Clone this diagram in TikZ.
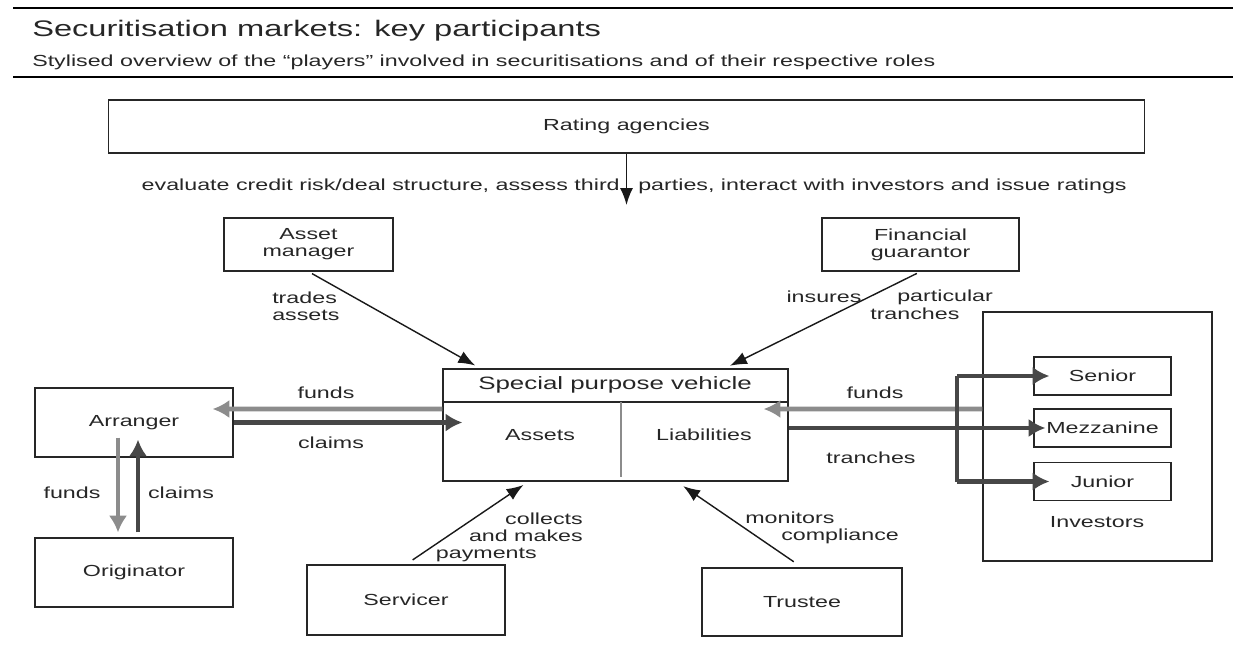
\documentclass[tikz,border=0pt]{standalone}
\usepackage{fontspec}
\setmainfont{Liberation Sans}[FakeStretch=1.45]
\usetikzlibrary{arrows.meta}

\newcommand\lblfont{\fontsize{11.4}{12.2}\selectfont}
\newcommand\spvfont{\fontsize{12.7}{14}\selectfont}
\newcommand\headfont{\fontsize{16}{19}\selectfont}

\begin{document}
\begin{tikzpicture}[
    x=0.025cm, y=-0.025cm,
    box/.style={rectangle, draw=black!85, line width=0.85pt, align=center, inner sep=1pt, font=\lblfont, text=black!85},
    lbl/.style={inner sep=0pt, font=\lblfont, text=black!85},
    arrow/.style={-{Latex[length=4.2mm,width=3.2mm]}, line width=1pt, draw=black!90},
    fundsflow/.style={-{Latex[length=4.2mm,width=4.6mm]}, line width=3.5pt, draw=black!45},
    claimsflow/.style={-{Latex[length=4.2mm,width=4.6mm]}, line width=3.5pt, draw=black!72},
    trunkline/.style={line width=3.5pt, draw=black!72}
]
\useasboundingbox (0,0) rectangle (1233,646);

% heading
\draw[line width=1pt] (13,8) -- (1233,8);
\draw[line width=1pt] (13,77) -- (1233,77);
\node[anchor=base west, inner sep=0pt, font=\headfont, text=black!85] (title) at (32,36) {Securitisation markets: key participants};
\node[anchor=base west, lbl] (subtitle) at (32,66) {Stylised overview of the “players” involved in securitisations and of their respective roles};

% rating agencies
\node[box, minimum width=25.875cm, minimum height=1.325cm] (rating) at (626.5,126.5) {Rating agencies};
\coordinate (ratingtip) at (626.5,205);
\draw[arrow] (rating.south) -- (ratingtip);
\node[lbl, anchor=base east] (ratingnotel) at (620,190) {evaluate credit risk/deal structure, assess third};
\node[lbl, anchor=base west] (ratingnoter) at (638,190) {parties, interact with investors and issue ratings};

% players around the vehicle
\node[box, minimum width=4.225cm, minimum height=1.325cm] (assetmgr) at (308.5,244.5) {Asset\\manager};
\node[box, minimum width=4.925cm, minimum height=1.325cm] (guarantor) at (920.5,244.5) {Financial\\guarantor};
\node[box, minimum width=4.95cm, minimum height=1.725cm] (arranger) at (134,422.5) {Arranger};
\node[box, minimum width=4.95cm, minimum height=1.725cm] (originator) at (134,572.5) {Originator};
\node[box, minimum width=4.95cm, minimum height=1.75cm] (servicer) at (406,600) {Servicer};
\node[box, minimum width=5cm, minimum height=1.7cm] (trustee) at (802,602) {Trustee};

% special purpose vehicle
\node[box, minimum width=8.625cm, minimum height=2.8cm] (spv) at (615.5,425) {};
\coordinate (spvhdr) at (0,402);
\draw[line width=0.85pt, black!85] (spv.west |- spvhdr) -- (spv.east |- spvhdr);
\draw[line width=1.2pt, black!45] (621,402) -- (621,477);
\node[lbl, font=\spvfont] (spvname) at (615,385) {Special purpose vehicle};
\node[lbl] (assets) at (540,435) {Assets};
\node[lbl] (liabs) at (704,435) {Liabilities};

% investors and tranches
\node[box, minimum width=5.725cm, minimum height=6.225cm] (investors) at (1097.5,436.5) {};
\node[lbl] (investorsname) at (1097,522) {Investors};
\node[box, minimum width=3.425cm, minimum height=0.95cm] (senior) at (1102.5,376) {Senior};
\node[box, minimum width=3.425cm, minimum height=0.95cm] (mezz) at (1102.5,428) {Mezzanine};
\node[box, minimum width=3.425cm, minimum height=0.95cm] (junior) at (1102.5,481.5) {Junior};

% roles of the players
\draw[arrow, shorten <=1mm, shorten >=1.5mm] (assetmgr.south) -- ([xshift=0.95cm]spv.north west);
\node[lbl, anchor=west, align=left] (tradeslbl) at (272,306.5) {trades\\assets};
\draw[arrow, shorten <=1mm, shorten >=1.5mm] (guarantor.south) -- ([xshift=-1.6cm]spv.north east);
\node[lbl] (insureslbl) at (824,297) {insures};
\node[lbl, anchor=west] (particularlbl) at (897,297) {particular};
\node[lbl, anchor=west] (trancheslbl) at (870,314) {tranches};
\draw[arrow, shorten <=2mm, shorten >=1.5mm] (servicer.north) -- ([xshift=2.15cm]spv.south west);
\node[lbl, anchor=east, align=right] (collectslbl) at (583,537) {collects\\and makes\\payments\hspace*{1.15cm}};
\draw[arrow, shorten <=2.5mm, shorten >=2mm] (trustee.north) -- ([xshift=-2.8cm]spv.south east);
\node[lbl, anchor=west, align=left] (monitorslbl) at (745,527.5) {monitors\\\hspace*{0.9cm}compliance};

% funds and claims
\draw[fundsflow] ([yshift=0.4cm]spv.west) -- ([xshift=-0.525cm,yshift=0.3375cm]arranger.east);
\draw[claimsflow] (arranger.east) -- ([xshift=0.5cm]spv.west |- arranger.east);
\node[lbl] (fundsl) at (326,393) {funds};
\node[lbl] (claimsl) at (331,443) {claims};
\draw[fundsflow] ([xshift=-0.4cm,yshift=0.5cm]arranger.south) -- ([xshift=-0.4cm,yshift=0.125cm]originator.north);
\draw[claimsflow] ([xshift=0.1cm,yshift=0.125cm]originator.north) -- ([xshift=0.1cm,yshift=0.45cm]arranger.south);
\node[lbl] (fundsv) at (72,493) {funds};
\node[lbl] (claimsv) at (181,493) {claims};
\draw[fundsflow] ([yshift=0.6875cm]investors.west) -- ([xshift=-0.625cm,yshift=0.4cm]spv.east);
\node[lbl] (fundsr) at (875,393) {funds};

% tranches split to investors
\coordinate (trunk) at (957,428);
\draw[claimsflow] (spv.east |- mezz.west) -- ([xshift=0.3cm]mezz.west);
\draw[trunkline] (trunk |- senior.west) -- (trunk |- junior.west);
\draw[claimsflow] (trunk |- senior.west) -- ([xshift=0.4cm]senior.west);
\draw[claimsflow] (trunk |- junior.west) -- ([xshift=0.4cm]junior.west);
\node[lbl] (tranchesr) at (871,458) {tranches};
\end{tikzpicture}
\end{document}
